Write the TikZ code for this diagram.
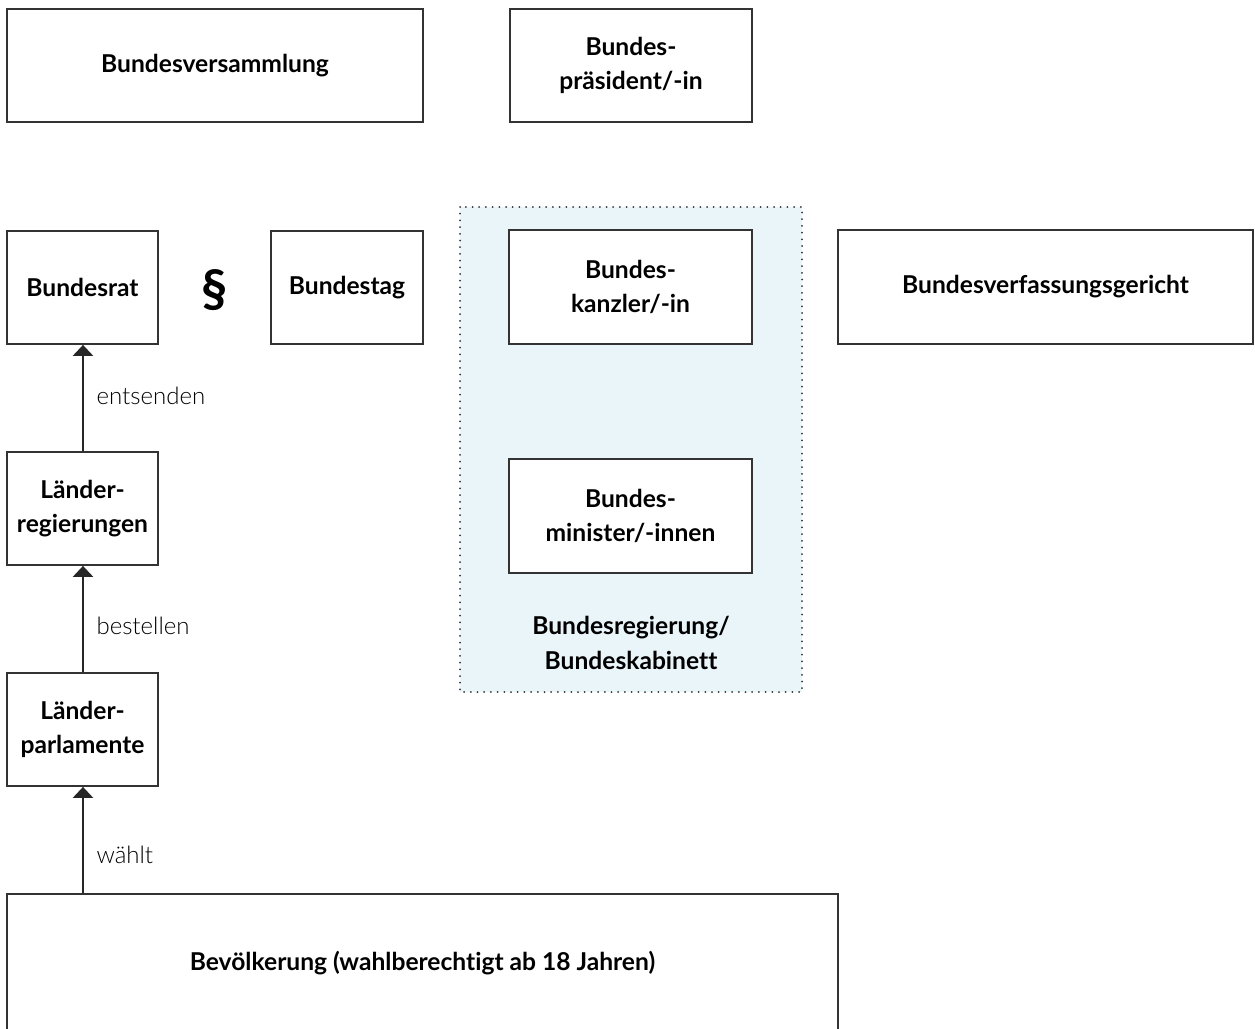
\documentclass[tikz,border=0pt]{standalone}
\usepackage{fontspec}
\setmainfont{Lato}[Ligatures={NoCommon}]
\newfontfamily\lightfont{Lato Light}[Ligatures={NoCommon}]
\usepackage{xcolor}
\usetikzlibrary{positioning, calc, arrows.meta}

\definecolor{boxgray}{RGB}{51,51,51}
\definecolor{cabinetblue}{RGB}{234,245,250}

\begin{document}
\begin{tikzpicture}[x=1pt, y=-1pt,
    box/.style={draw=boxgray, line width=1.8pt, fill=white, inner sep=0pt, align=center,
                text=black, font=\bfseries\fontsize{24.6}{34}\selectfont},
    arrow/.style={draw=black!85, line width=2.4pt, -{Triangle[width=20pt, length=11pt]}},
    arrlabel/.style={anchor=west, xshift=9pt, text=black, font=\lightfont\fontsize{24}{26}\selectfont}]
    \useasboundingbox (0,0) rectangle (1255,1028);
    \clip (0,0) rectangle (1255,1028);

    % Bundesregierung / Bundeskabinett
    \draw[fill=cabinetblue, draw=black!80, line width=2pt, line cap=round, dash pattern=on 0pt off 6.7pt]
        (460,207) rectangle (802,692);
    \node[font=\bfseries\fontsize{24.6}{35}\selectfont, align=center] (kabinett) at (631,643)
        {Bundesregierung/\\Bundeskabinett};

    \node[box, minimum width=416pt, minimum height=113pt] (versammlung) at (215,65.5) {Bundesversammlung};
    \node[box, minimum width=242pt, minimum height=113pt] (praesident)  at (631,65.5) {Bundes-\\präsident/-in};

    \node[box, minimum width=151pt, minimum height=113pt] (rat) at (82.5,287.5) {Bundesrat};
    \node[font=\bfseries\fontsize{52}{52}\selectfont] (para) at (215,290) {§};
    \node[box, minimum width=152pt, minimum height=113pt] (tag) at (347,287.5) {Bundestag};

    \node[box, minimum width=243pt, minimum height=114pt] (kanzler)  at (630.5,287) {Bundes-\\kanzler/-in};
    \node[box, minimum width=243pt, minimum height=114pt] (minister) at (630.5,516) {Bundes-\\minister/-innen};

    \node[box, minimum width=415pt, minimum height=114pt] (gericht) at (1045.5,287) {Bundesverfassungsgericht};

    \node[box, minimum width=151pt, minimum height=113pt] (lregierungen) at (82.5,508.5) {Länder-\\regierungen};
    \node[box, minimum width=151pt, minimum height=113pt] (lparlamente)  at (82.5,729.5) {Länder-\\parlamente};

    \node[box, minimum width=831pt, minimum height=138pt] (bevoelkerung) at (422.5,963)
        {Bevölkerung (wahlberechtigt ab 18 Jahren)};

    \draw[arrow] ($(lregierungen.north)+(0.5,0)$) -- ($(rat.south)+(0.5,0)$)
        node[arrlabel, pos=0.52] (entsenden) {entsenden};
    \draw[arrow] ($(lparlamente.north)+(0.5,0)$) -- ($(lregierungen.south)+(0.5,0)$)
        node[arrlabel, pos=0.44] (bestellen) {bestellen};
    \draw[arrow] ($(bevoelkerung.north -| lparlamente.north)+(0.5,0)$) -- ($(lparlamente.south)+(0.5,0)$)
        node[arrlabel, pos=0.36] (waehlt) {wählt};
\end{tikzpicture}
\end{document}
